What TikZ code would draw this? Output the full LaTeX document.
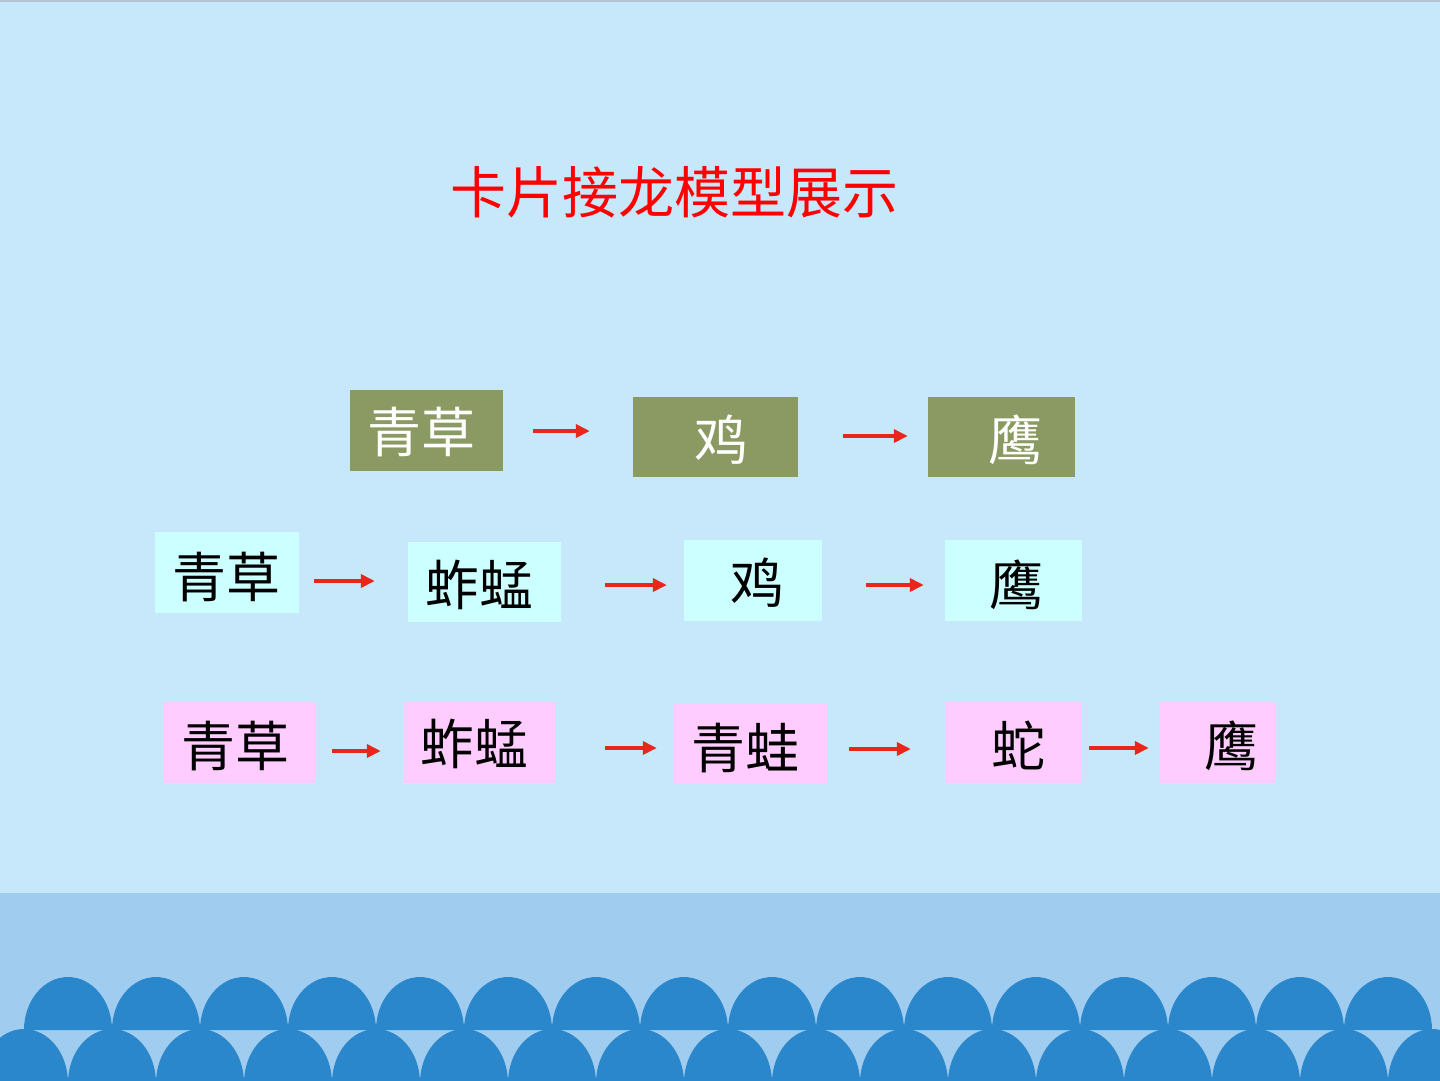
\documentclass[tikz,border=0pt]{standalone}
\usepackage{fontspec}
\newfontfamily\cjk{Noto Sans CJK SC}
\usetikzlibrary{arrows.meta}
\definecolor{skybg}{HTML}{C6E8FA}
\definecolor{bandbg}{HTML}{A0CCF0}
\definecolor{archblue}{HTML}{2A87CB}
\definecolor{olivebox}{HTML}{8A9A62}
\definecolor{cyanbox}{HTML}{CCFFFF}
\definecolor{pinkbox}{HTML}{FFCCFF}
\definecolor{arrred}{HTML}{E8261B}
\definecolor{topline}{HTML}{B4C4D0}
\tikzset{
  card/.style={rectangle, draw=none, inner sep=0pt},
  olivecard/.style={card, fill=olivebox},
  cyancard/.style={card, fill=cyanbox},
  pinkcard/.style={card, fill=pinkbox},
  word/.style={inner sep=0pt, font=\cjk\fontsize{54}{60}\selectfont, text height=45pt, text depth=4pt},
  whiteword/.style={word, text=white},
  blackword/.style={word, text=black},
  arr/.style={draw=arrred, line width=3.5pt, -{Triangle[length=14pt,width=13pt]}},
  arch/.style={fill=archblue}
}
\begin{document}
\begin{tikzpicture}[x=1pt,y=-1pt]
\useasboundingbox (0,0) rectangle (1440,1080);
% background
\fill[skybg] (0,0) rectangle (1440,1080);
\fill[topline] (0,0) rectangle (1440,2);
\fill[bandbg] (0,893) rectangle (1440,1080);
% arches, top row
\foreach \k in {0,...,15} {
  \pgfmathsetmacro{\cx}{68+88*\k}
  \fill[arch] (\cx-44,1030) arc[start angle=180, end angle=360, x radius=44, y radius=53] -- cycle;
}
% arches, bottom row
\foreach \k in {0,...,16} {
  \pgfmathsetmacro{\cx}{24+88*\k}
  \fill[arch] (\cx-44,1083) arc[start angle=180, end angle=360, x radius=44, y radius=54] -- cycle;
}
% title
\node[inner sep=0pt, text=red, font=\cjk\fontsize{56}{62}\selectfont, text height=46pt, text depth=4pt] (title) at (674,192) {卡片接龙模型展示};

% row 1
\node[olivecard, minimum width=153pt, minimum height=81pt] (a1) at (426.5,430.5) {};
\node[olivecard, minimum width=165pt, minimum height=80pt] (a2) at (715.5,437) {};
\node[olivecard, minimum width=147pt, minimum height=80pt] (a3) at (1001.5,437) {};
\node[whiteword] (a1t) at (421,432) {青草};
\node[whiteword] (a2t) at (721,440) {鸡};
\node[whiteword] (a3t) at (1015,440) {鹰};
\draw[arr] ([xshift=30pt,yshift=-0.5pt]a1.east) -- ([xshift=-43pt,yshift=6pt]a2.west);
\draw[arr] ([xshift=45pt,yshift=1pt]a2.east) -- ([xshift=-20pt,yshift=1pt]a3.west);

% row 2
\node[cyancard, minimum width=144pt, minimum height=81pt] (b1) at (227,572.5) {};
\node[cyancard, minimum width=153pt, minimum height=80pt] (b2) at (484.5,582) {};
\node[cyancard, minimum width=138pt, minimum height=81pt] (b3) at (753,580.5) {};
\node[cyancard, minimum width=137pt, minimum height=81pt] (b4) at (1013.5,580.5) {};
\node[blackword] (b1t) at (226,577) {青草};
\node[blackword] (b2t) at (479,585) {蚱蜢};
\node[blackword] (b3t) at (757,583) {鸡};
\node[blackword] (b4t) at (1016,585) {鹰};
\draw[arr] ([xshift=15pt,yshift=-8.5pt]b1.east) -- ([xshift=-33pt,yshift=1pt]b2.west);
\draw[arr] ([xshift=44pt,yshift=-3pt]b2.east) -- ([xshift=-17pt,yshift=-4.5pt]b3.west);
\draw[arr] ([xshift=44pt,yshift=-4.5pt]b3.east) -- ([xshift=-21pt,yshift=-4.5pt]b4.west);

% row 3
\node[pinkcard, minimum width=151pt, minimum height=81pt] (c1) at (239.5,742.5) {};
\node[pinkcard, minimum width=153pt, minimum height=81pt] (c2) at (479.5,742.5) {};
\node[pinkcard, minimum width=155pt, minimum height=80pt] (c3) at (750.5,744) {};
\node[pinkcard, minimum width=137pt, minimum height=81pt] (c4) at (1013.5,742.5) {};
\node[pinkcard, minimum width=115pt, minimum height=81pt] (c5) at (1217.5,742.5) {};
\node[blackword] (c1t) at (235,746) {青草};
\node[blackword] (c2t) at (474,744) {蚱蜢};
\node[blackword] (c3t) at (745,748) {青蛙};
\node[blackword] (c4t) at (1018,746) {蛇};
\node[blackword] (c5t) at (1231,746) {鹰};
\draw[arr] ([xshift=17pt,yshift=-8.5pt]c1.east) -- ([xshift=-22pt,yshift=-8.5pt]c2.west);
\draw[arr] ([xshift=49pt,yshift=-5.5pt]c2.east) -- ([xshift=-16pt,yshift=-4pt]c3.west);
\draw[arr] ([xshift=21pt,yshift=-5pt]c3.east) -- ([xshift=-34pt,yshift=-6.5pt]c4.west);
\draw[arr] ([xshift=7pt,yshift=-5.5pt]c4.east) -- ([xshift=-11pt,yshift=-5.5pt]c5.west);
\end{tikzpicture}
\end{document}
